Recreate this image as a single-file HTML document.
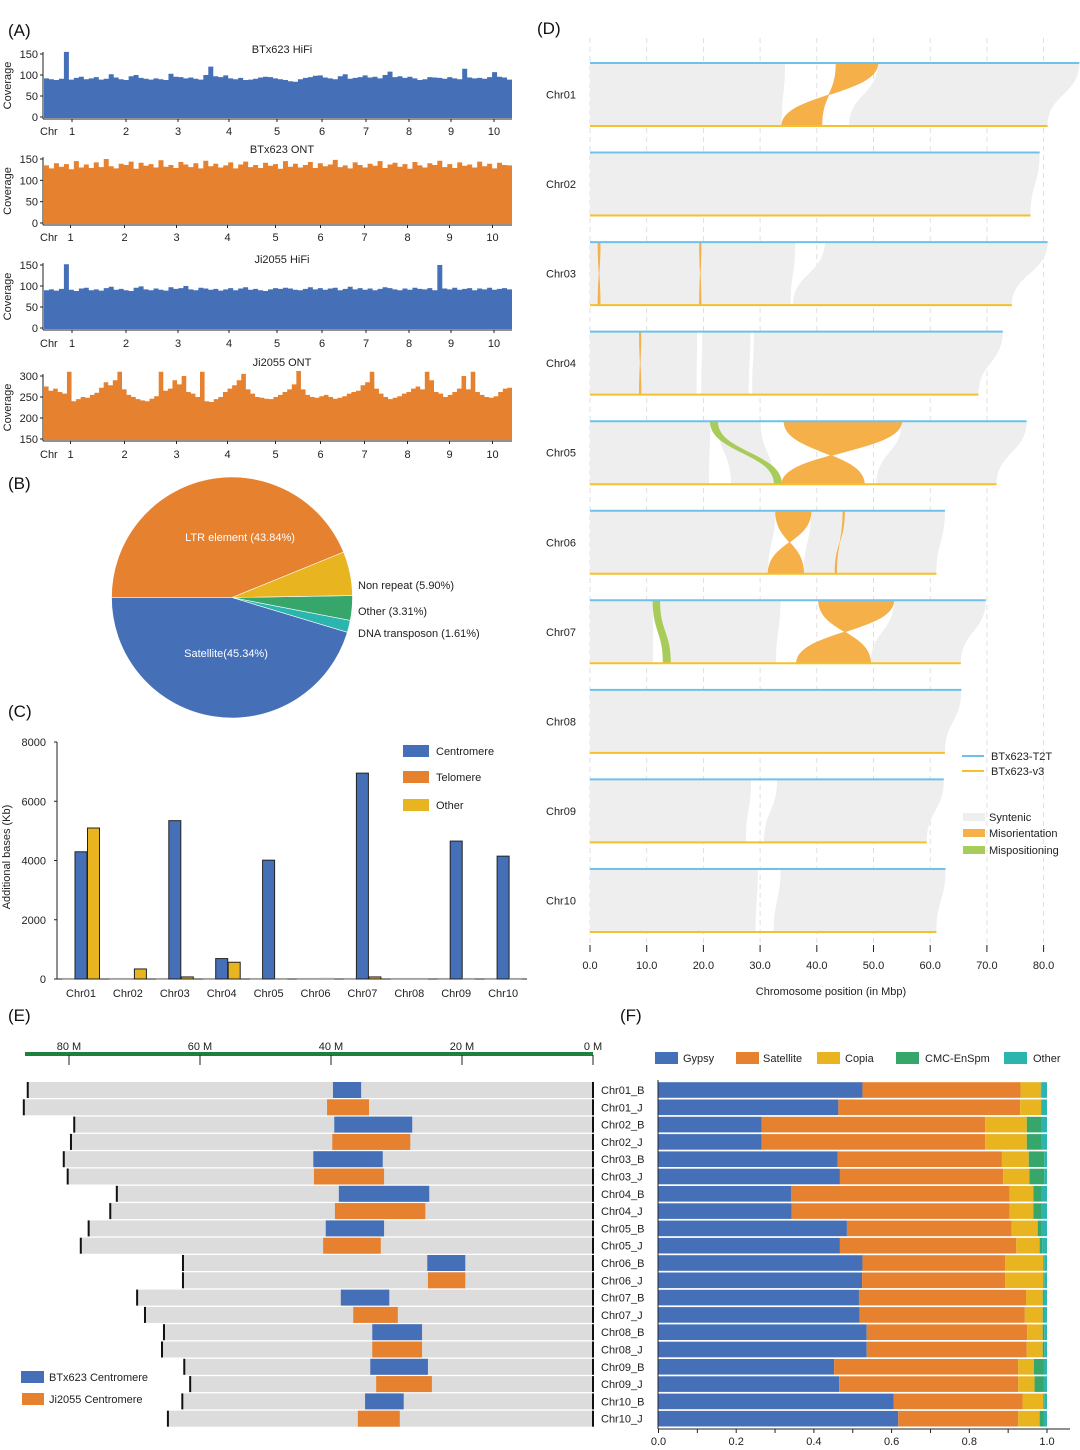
<!DOCTYPE html>
<html><head><meta charset="utf-8"><style>
html,body{margin:0;padding:0;background:#fff}
svg{display:block;font-family:"Liberation Sans",Arial,sans-serif}
</style></head><body>
<svg id="fig" width="1080" height="1450" viewBox="0 0 1080 1450" xmlns="http://www.w3.org/2000/svg">
<g font-size="17" fill="#111">
<text x="8" y="36">(A)</text>
<text x="8" y="489">(B)</text>
<text x="8" y="717">(C)</text>
<text x="537" y="34">(D)</text>
<text x="8" y="1021">(E)</text>
<text x="620" y="1021">(F)</text>
</g>
</svg>
<script>
// ---------- Panel A data ----------
const covHifiB=[92,90,88,91,155,89,93,96,90,92,95,89,91,102,94,90,88,97,100,93,91,89,92,90,88,103,96,95,92,94,91,89,100,120,97,95,99,92,90,93,88,89,91,94,96,95,92,90,88,85,84,90,93,95,98,99,94,92,90,97,102,91,93,95,99,94,96,92,100,108,95,97,93,96,92,88,90,95,94,93,91,95,92,90,115,94,92,93,91,95,107,96,94,89];
const covOntB=[135,128,140,132,138,126,145,130,137,129,142,131,150,133,128,139,136,144,127,141,134,138,130,147,132,136,129,143,137,131,140,128,146,133,139,130,135,142,128,137,144,131,136,129,141,134,138,127,145,132,139,130,136,143,129,140,133,137,148,131,135,128,142,136,130,139,134,145,129,137,141,132,138,127,143,135,130,140,136,146,131,138,129,142,134,137,130,144,133,139,128,141,136,135];
const covHifiJ=[90,92,89,93,152,91,88,94,96,90,92,89,95,98,91,93,90,88,96,99,92,90,94,91,89,97,93,95,100,92,90,96,94,91,93,89,92,95,90,94,97,91,93,90,88,92,95,93,96,94,91,90,93,97,92,95,91,94,96,90,93,98,92,95,91,94,90,93,97,95,92,90,94,91,96,93,92,95,90,150,94,92,96,91,93,95,90,94,92,96,91,93,95,92];
const covOntJ=[275,265,270,262,258,310,240,245,250,248,255,260,272,285,278,290,310,268,255,250,245,242,240,246,252,310,265,270,290,280,300,262,258,250,310,240,238,245,250,262,270,278,290,305,268,258,250,248,246,245,250,255,262,268,280,312,268,255,250,248,252,255,250,246,248,252,258,262,265,278,285,310,270,258,250,245,248,252,258,262,270,275,268,310,290,262,258,250,255,262,270,300,268,310,262,255,250,248,252,262,270,272];
const covTicks012=[0,50,100,150];
const covTicksOnt=[150,200,250,300];
const chrTickLabels=["1","2","3","4","5","6","7","8","9","10"];
// ---------- Panel B data ----------
const pieLabels=["Satellite(45.34%)","DNA transposon (1.61%)","Other (3.31%)","Non repeat (5.90%)","LTR element (43.84%)"];
const pieValues=[45.34,1.61,3.31,5.90,43.84];
// ---------- Panel C data ----------
const cCats=["Chr01","Chr02","Chr03","Chr04","Chr05","Chr06","Chr07","Chr08","Chr09","Chr10"];
const cCentromere=[4294,0,5345,689,4011,0,6949,0,4655,4147];
const cTelomere=[15,15,15,0,15,15,15,15,0,0];
const cOther=[5096,339,70,565,20,30,70,20,15,0];
const cTicks=[0,2000,4000,6000,8000];
// ---------- Panel D data ----------
const dChroms=["Chr01","Chr02","Chr03","Chr04","Chr05","Chr06","Chr07","Chr08","Chr09","Chr10"];
const dT2TLen=[86.3,79.3,80.7,72.8,77.0,62.6,69.8,65.5,62.4,62.7];
const dV3Len=[80.7,77.7,74.4,68.5,71.7,61.1,65.4,62.6,59.4,61.1];
const dBlocks=[
 [[0,34.4,0,33.8,0],[50.8,86.3,45.7,80.7,0],[43.4,50.8,33.8,40.9,1]],
 [[0,79.3,0,77.7,0]],
 [[0,36.2,0,35.4,0],[41.4,80.7,35.8,74.4,0],[1.4,1.8,1.4,1.8,1],[19.3,19.6,19.3,19.6,1]],
 [[0,18.9,0,18.8,0],[19.8,28.3,19.6,28,0],[28.9,72.8,28.6,68.5,0],[8.7,9.0,8.7,9.0,1]],
 [[0,21.2,0,21,0],[22.5,30.1,24.9,32.5,0],[55,77,50.5,71.7,0],[21.2,22.5,32.5,33.8,2],[34.2,55,33.8,48.4,1]],
 [[0,32.7,0,31.4,0],[39,44.6,37.7,43.2,0],[44.9,62.6,43.5,61.1,0],[32.7,39,31.4,37.7,1],[44.6,44.9,43.2,43.5,1]],
 [[0,11.1,0,11.1,0],[12.3,33.6,14.2,32.8,0],[53.6,69.8,49.5,65.4,0],[11.1,12.3,12.9,14.2,2],[40.3,53.6,36.4,49.5,1]],
 [[0,65.5,0,62.6,0]],
 [[0,28.4,0,27.5,0],[33,62.4,30.7,59.4,0]],
 [[0,29.6,0,29.2,0],[33.6,62.7,32.4,61.1,0]]
];
const dTicks=[0,10,20,30,40,50,60,70,80];
// ---------- Panel E data ----------
const eLabels=["Chr01_B","Chr01_J","Chr02_B","Chr02_J","Chr03_B","Chr03_J","Chr04_B","Chr04_J","Chr05_B","Chr05_J","Chr06_B","Chr06_J","Chr07_B","Chr07_J","Chr08_B","Chr08_J","Chr09_B","Chr09_J","Chr10_B","Chr10_J"];
const eLen=[86.3,86.9,79.2,79.7,80.8,80.2,72.7,73.7,77.0,78.2,62.6,62.6,69.6,68.4,65.5,65.8,62.4,61.5,62.7,64.9];
const eCenStart=[39.7,40.6,39.5,39.8,42.7,42.6,38.8,39.4,40.8,41.2,25.3,25.2,38.5,36.6,33.7,33.7,34.0,33.1,34.8,35.9];
const eCenEnd=[35.4,34.2,27.6,27.9,32.1,31.9,25.0,25.6,31.9,32.4,19.5,19.5,31.1,29.8,26.1,26.1,25.2,24.6,28.9,29.5];
const eTicks=[0,20,40,60,80];
// ---------- Panel F data ----------
const fGypsy=[0.525,0.463,0.265,0.265,0.461,0.467,0.341,0.343,0.485,0.467,0.525,0.524,0.516,0.518,0.536,0.536,0.452,0.465,0.605,0.617];
const fSatellite=[0.407,0.468,0.576,0.576,0.423,0.420,0.563,0.561,0.424,0.454,0.367,0.368,0.430,0.425,0.413,0.412,0.474,0.461,0.332,0.309];
const fCopia=[0.052,0.054,0.107,0.107,0.069,0.068,0.061,0.061,0.067,0.060,0.099,0.099,0.043,0.046,0.040,0.041,0.040,0.042,0.054,0.055];
const fCmc=[0.001,0.002,0.038,0.038,0.040,0.038,0.021,0.021,0.010,0.007,0.002,0.002,0.002,0.002,0.004,0.004,0.025,0.023,0.002,0.010];
const fOther=[0.015,0.013,0.014,0.014,0.007,0.007,0.014,0.014,0.014,0.012,0.007,0.007,0.009,0.009,0.007,0.007,0.009,0.009,0.007,0.009];
const fTicks=[0,0.2,0.4,0.6,0.8,1.0];

const NS="http://www.w3.org/2000/svg";
const svg=document.getElementById('fig');
function mk(tag,attrs,parent){const e=document.createElementNS(NS,tag);for(const k in attrs)e.setAttribute(k,attrs[k]);(parent||svg).appendChild(e);return e;}
function tx(x,y,s,attrs,parent){const e=mk('text',Object.assign({x:x,y:y,'font-size':11,fill:'#222'},attrs||{}),parent);e.textContent=s;return e;}
function grp(parent){return mk('g',{},parent);}

// ---------- Panel A ----------
const tracks=[
 {d:covHifiB,title:"BTx623 HiFi",ty:53,vmin:0,vmax:150,y0:117,y1:54,col:"#4570B8",ticks:covTicks012,chrY:135,name:"btx623-hifi"},
 {d:covOntB,title:"BTx623 ONT",ty:153,vmin:0,vmax:150,y0:223,y1:159,col:"#E6812F",ticks:covTicks012,chrY:241,name:"btx623-ont"},
 {d:covHifiJ,title:"Ji2055 HiFi",ty:263,vmin:0,vmax:150,y0:328,y1:265,col:"#4570B8",ticks:covTicks012,chrY:347,name:"ji2055-hifi"},
 {d:covOntJ,title:"Ji2055 ONT",ty:366,vmin:150,vmax:300,y0:439,y1:376,col:"#E6812F",ticks:covTicksOnt,chrY:458,name:"ji2055-ont"}
];
const chrX=[72,126,178,229,277,322,366,409,451,494];
tracks.forEach(t=>{
 const g=grp();
 
 
 const x0=44,x1=512,n=t.d.length,w=(x1-x0)/n;
 const Y=v=>t.y0-(Math.max(v,t.vmin)-t.vmin)/(t.vmax-t.vmin)*(t.y0-t.y1);
 let p="M"+x0+","+(t.y0+1);
 t.d.forEach((v,i)=>{const y=Math.max(Y(v),t.y1-6);p+=" L"+(x0+i*w).toFixed(2)+","+y.toFixed(1)+" L"+(x0+(i+1)*w).toFixed(2)+","+y.toFixed(1);});
 p+=" L"+x1+","+(t.y0+1)+" Z";
 const a=mk('path',{d:p,fill:t.col},g);
 
 
 mk('line',{x1:x0-1,y1:t.y1-2,x2:x0-1,y2:t.y0+2,stroke:'#222','stroke-width':1},g);
 mk('line',{x1:x0-1,y1:t.y0+2,x2:x1,y2:t.y0+2,stroke:'#222','stroke-width':1},g);
 t.ticks.forEach(v=>{const y=Y(v);mk('line',{x1:x0-4,y1:y,x2:x0-1,y2:y,stroke:'#222'},g);tx(x0-6,y+4,String(v),{'text-anchor':'end'},g);});
 const tt=tx(282,t.ty,t.title,{'text-anchor':'middle'},g);
 
 
 tx(40,t.chrY,"Chr",{},g);
 chrTickLabels.forEach((s,i)=>{const cx=chrX[i]-(t.vmin>0||t.name.indexOf('ont')>=0?1.5:0);mk('line',{x1:cx,y1:t.y0+2,x2:cx,y2:t.y0+5,stroke:'#222'},g);tx(cx,t.chrY,s,{'text-anchor':'middle'},g);});
 const yl=tx(0,0,"Coverage",{'text-anchor':'middle',transform:`translate(11,${(t.y0+t.y1)/2}) rotate(-90)`},g);
 
 
});

// ---------- Panel B ----------
(function(){
 const g=grp();
 
 
 const cx=232,cy=597.5,r=120.5;
 const cols=["#4570B8","#2CB5AE","#37A66A","#E8B420","#E6812F"];
 const total=pieValues.reduce((a,b)=>a+b,0);
 let ang=Math.PI;
 pieValues.forEach((v,i)=>{
  const sweep=v/total*2*Math.PI;
  const a0=ang,a1=ang+sweep;
  const large=sweep>Math.PI?1:0;
  const q0=[cx+r*Math.cos(a0),cy-r*Math.sin(a0)];
  const q1=[cx+r*Math.cos(a1),cy-r*Math.sin(a1)];
  const s=mk('path',{d:`M${cx},${cy} L${q0[0]},${q0[1]} A${r},${r} 0 ${large} 0 ${q1[0]},${q1[1]} Z`,fill:cols[i],stroke:'#fff','stroke-width':0.6},g);
  
  
  ang=a1;
 });
 const l1=tx(240,541,pieLabels[4],{'text-anchor':'middle',fill:'#fff'},g);
 
 
 const l2=tx(226,657,pieLabels[0],{'text-anchor':'middle',fill:'#fff'},g);
 
 
 const l3=tx(358,589,pieLabels[3],{},g);
 
 
 const l4=tx(358,615,pieLabels[2],{},g);
 
 
 const l5=tx(358,637,pieLabels[1],{},g);
 
 
})();

// ---------- Panel C ----------
(function(){
 const g=grp();
 
 
 const y0=979,y1=742,vmax=8000,xa=57,xb=527;
 const Y=v=>y0-v/vmax*(y0-y1);
 mk('line',{x1:xa,y1:y1,x2:xa,y2:y0,stroke:'#222'},g);
 mk('line',{x1:xa,y1:y0,x2:xb,y2:y0,stroke:'#222'},g);
 cTicks.forEach(v=>{mk('line',{x1:xa-3,y1:Y(v),x2:xa,y2:Y(v),stroke:'#222'},g);tx(xa-11,Y(v)+4,String(v),{'text-anchor':'end'},g);});
 const yt=tx(0,0,"Additional bases (Kb)",{'text-anchor':'middle',transform:'translate(10,857) rotate(-90)'},g);
 
 
 const series=[[cTelomere,"#E6812F",-12.5,'telomere-bar'],[cCentromere,"#4570B8",0,'centromere-bar'],[cOther,"#E8B420",12.5,'other-bar']];
 cCats.forEach((c,i)=>{
  const cx=81+i*46.9;
  series.forEach(s=>{
   const v=s[0][i];
   const h=Math.max(y0-Y(v),0.8);
   const b=mk('rect',{x:cx+s[2]-6,y:y0-h,width:12,height:h,fill:v<50?'#bbb':s[1],stroke:v<50?'#999':'#222','stroke-width':v<50?0.5:1},g);
   
   
  });
  tx(cx,997,c,{'text-anchor':'middle'},g);
 });
 const leg=[["Centromere","#4570B8",751],["Telomere","#E6812F",777],["Other","#E8B420",805]];
 leg.forEach(l=>{
  const r=mk('rect',{x:403,y:l[2]-6,width:26,height:12,fill:l[1]},g);
  
  
  tx(436,l[2]+4,l[0],{},g);
 });
})();

// ---------- Panel D ----------
(function(){
 const g=grp();
 
 
 const x0=590,k=5.67;
 const X=v=>x0+v*k;
 dTicks.forEach(v=>{
  mk('line',{x1:X(v),y1:38,x2:X(v),y2:950,stroke:'#d8d8d8','stroke-dasharray':'5,4','stroke-width':0.8},g);
  mk('line',{x1:X(v),y1:945,x2:X(v),y2:952,stroke:'#222','stroke-width':1},g);
  tx(X(v),969,v.toFixed(1),{'text-anchor':'middle'},g);
 });
 const cols=["#EDEEED","#F5B04A","#A8CC5A"];
 dChroms.forEach((c,i)=>{
  const yt=63+i*89.55,yb=yt+63,ym=(yt+yb)/2;
  dBlocks[i].forEach(b=>{
   const [ts,te,bs,be,ty]=b;
   let d;
   if(ty===1){
    d=`M${X(ts)},${yt} L${X(te)},${yt} C${X(te)},${ym} ${X(bs)},${ym} ${X(bs)},${yb} L${X(be)},${yb} C${X(be)},${ym} ${X(ts)},${ym} ${X(ts)},${yt} Z`;
   } else {
    d=`M${X(ts)},${yt} L${X(te)},${yt} C${X(te)},${ym} ${X(be)},${ym} ${X(be)},${yb} L${X(bs)},${yb} C${X(bs)},${ym} ${X(ts)},${ym} ${X(ts)},${yt} Z`;
   }
   const p=mk('path',{d:d,fill:cols[ty],stroke:ty?cols[ty]:'none','stroke-width':ty?0.6:0},g);
   
   
  });
  const lb=mk('line',{x1:X(0),y1:yt,x2:X(dT2TLen[i]),y2:yt,stroke:'#6EC1EA','stroke-width':2},g);
  
  
  const ly=mk('line',{x1:X(0),y1:yb,x2:X(dV3Len[i]),y2:yb,stroke:'#F5C02C','stroke-width':2},g);
  
  
  tx(546,ym+4,c,{},g);
 });
 const xt=tx(831,995,"Chromosome position (in Mbp)",{'text-anchor':'middle'},g);
 
 
 mk('line',{x1:962,y1:756,x2:984,y2:756,stroke:'#6EC1EA','stroke-width':2},g);
 tx(991,760,"BTx623-T2T",{},g);
 mk('line',{x1:962,y1:771,x2:984,y2:771,stroke:'#F5C02C','stroke-width':2},g);
 tx(991,775,"BTx623-v3",{},g);
 [["Syntenic",cols[0],817],["Misorientation",cols[1],833],["Mispositioning",cols[2],850]].forEach(l=>{
  const r=mk('rect',{x:963,y:l[2]-4,width:22,height:8,fill:l[1]},g);
  
  
  tx(989,l[2]+4,l[0],{},g);
 });
})();

// ---------- Panel E ----------
(function(){
 const g=grp();
 
 
 const xr=593,k=6.55;
 const X=v=>xr-v*k;
 const ax=mk('rect',{x:25,y:1052,width:568,height:4,fill:'#1E7F3E'},g);
 
 
 eTicks.forEach(v=>{mk('line',{x1:X(v),y1:1055,x2:X(v),y2:1065,stroke:'#222'},g);tx(X(v),1050,v+" M",{'text-anchor':'middle'},g);});
 eLabels.forEach((l,i)=>{
  const yc=1090+i*17.3;
  const bg=mk('rect',{x:X(eLen[i]),y:yc-8,width:xr-X(eLen[i]),height:16,fill:'#DCDCDC'},g);
  
  
  const cen=mk('rect',{x:X(eCenStart[i]),y:yc-8,width:X(eCenEnd[i])-X(eCenStart[i]),height:16,fill:i%2?'#E6812F':'#4570B8'},g);
  
  
  mk('rect',{x:X(eLen[i])-1,y:yc-8,width:2,height:16,fill:'#111'},g);
  mk('rect',{x:xr-1,y:yc-8,width:2,height:16,fill:'#111'},g);
  tx(601,yc+4,l,{},g);
 });
 const r1=mk('rect',{x:21,y:1371,width:23,height:12,fill:'#4570B8'},g);
 
 
 tx(49,1381,"BTx623 Centromere",{},g);
 const r2=mk('rect',{x:22,y:1393,width:22,height:12,fill:'#E6812F'},g);
 
 
 tx(49,1403,"Ji2055 Centromere",{},g);
})();

// ---------- Panel F ----------
(function(){
 const g=grp();
 
 
 const x0=658.5,x1=1047;
 const X=v=>x0+v*(x1-x0);
 const cols=["#4570B8","#E6812F","#E8B420","#37A66A","#2CB5AE"];
 const series=[fGypsy,fSatellite,fCopia,fCmc,fOther];
 const sname=["gypsy","satellite","copia","cmc-enspm","other"];
 eLabels.forEach((l,i)=>{
  const yc=1090+i*17.3;
  let acc=0;
  series.forEach((s,j)=>{
   const v=s[i];
   const r=mk('rect',{x:X(acc),y:yc-7.8,width:Math.max(X(acc+v)-X(acc),0),height:15.6,fill:cols[j]},g);
   
   
   acc+=v;
  });
 });
 mk('line',{x1:x0-0.5,y1:1080,x2:x0-0.5,y2:1429,stroke:'#222'},g);
 mk('line',{x1:x0-0.5,y1:1429,x2:1070,y2:1429,stroke:'#222'},g);
 for(let v=0;v<=10;v++){mk('line',{x1:X(v/10),y1:1429,x2:X(v/10),y2:1433,stroke:'#222'},g);}
 fTicks.forEach(v=>tx(X(v),1445,v.toFixed(1),{'text-anchor':'middle'},g));
 const leg=[["Gypsy",655,683],["Satellite",736,763],["Copia",817,845],["CMC-EnSpm",896,925],["Other",1004,1033]];
 leg.forEach((l,j)=>{
  const r=mk('rect',{x:l[1],y:1052,width:23,height:12,fill:cols[j]},g);
  
  
  tx(l[2],1062,l[0],{},g);
 });
})();
</script>
</body></html>
